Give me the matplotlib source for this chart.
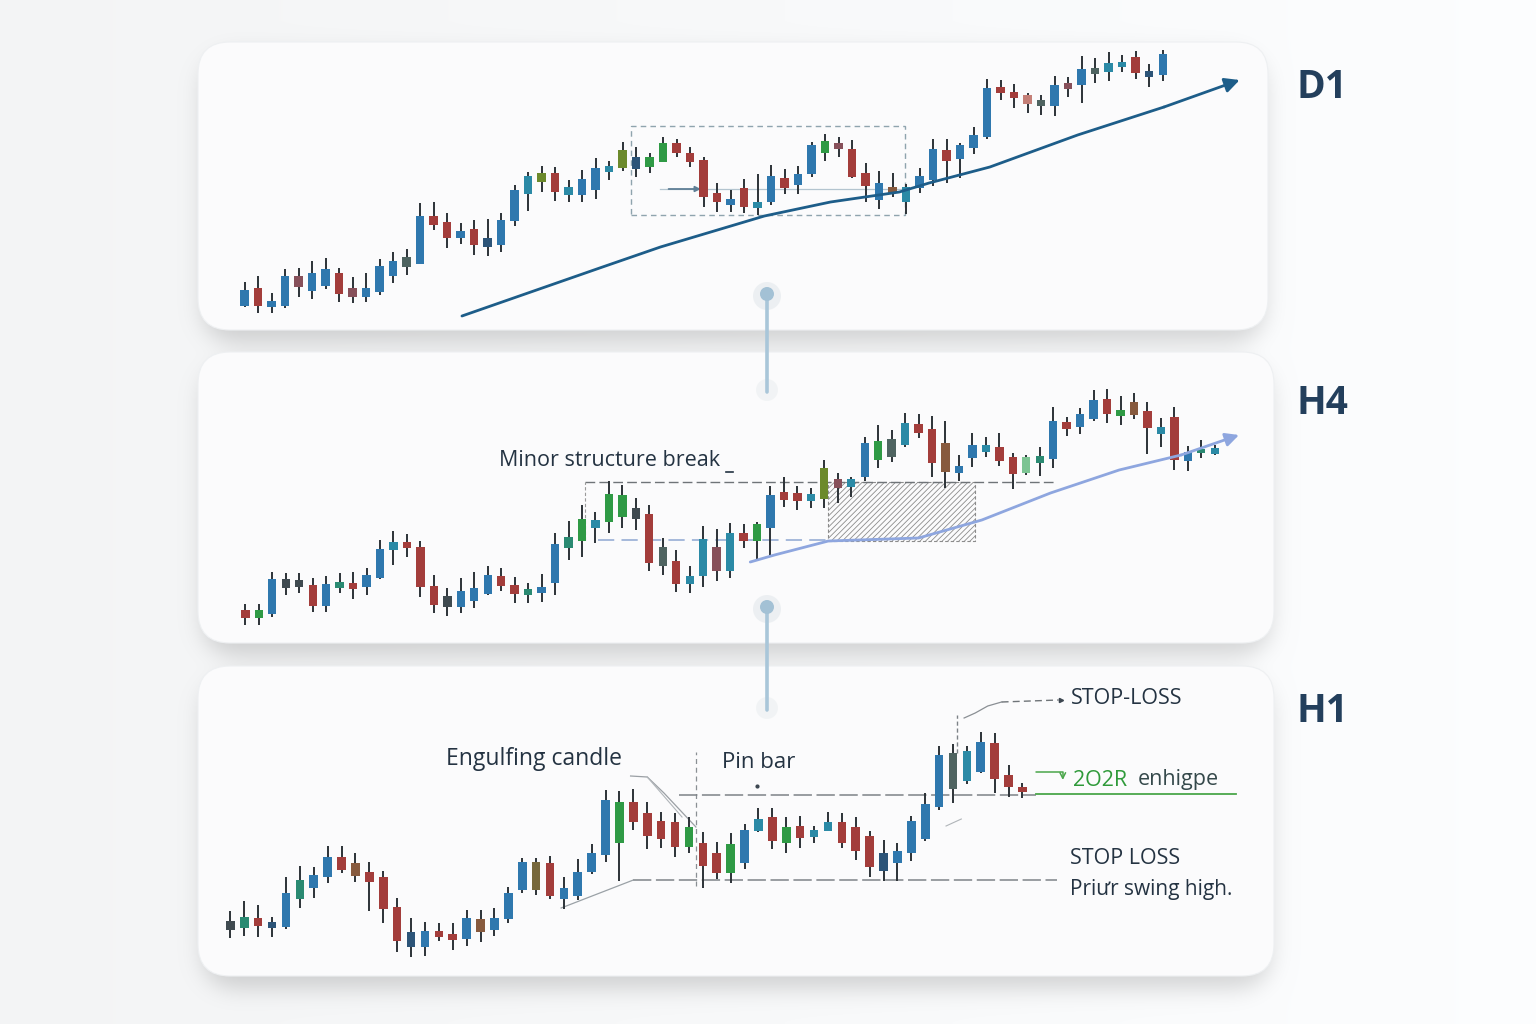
import numpy as np
import matplotlib
matplotlib.use("Agg")
import matplotlib.pyplot as plt
from matplotlib.patches import FancyBboxPatch, Rectangle, Circle

plt.rcParams['font.family'] = ['Open Sans', 'DejaVu Sans']
plt.rcParams['hatch.linewidth'] = 0.6

# ---------------- data ----------------
# D1
d1_open = [24, 42, 23, 24, 54, 39, 44, 57, 42, 33, 38, 54, 63, 66, 114, 108, 92, 101, 83, 85,
           109, 136, 148, 157, 135, 135, 140, 158, 162, 161, 163, 168, 187, 177, 170, 137, 125, 142, 122, 128,
           152, 145, 156, 177, 187, 181, 157, 130, 143, 128, 142, 150, 180, 171, 182, 193, 243, 238, 235, 224,
           224, 241, 245, 256, 258, 263, 273, 253, 255]
d1_high = [48, 54, 37, 61, 62, 69, 72, 62, 53, 57, 71, 78, 81, 127, 128, 117, 107, 110, 111, 117,
           145, 158, 164, 163, 150, 160, 172, 169, 188, 183, 177, 193, 191, 183, 173, 147, 140, 151, 156, 165,
           161, 164, 188, 196, 193, 190, 167, 159, 157, 146, 162, 191, 191, 187, 203, 251, 250, 246, 237, 235,
           254, 253, 274, 272, 278, 275, 279, 266, 280]
d1_low = [23, 17, 17, 22, 33, 31, 41, 28, 27, 28, 35, 47, 55, 66, 100, 82, 86, 75, 74, 78,
          104, 119, 138, 129, 128, 128, 131, 150, 159, 153, 157, 168, 173, 163, 123, 118, 118, 117, 115, 125,
          136, 136, 153, 169, 173, 152, 128, 121, 133, 116, 137, 144, 147, 152, 176, 191, 230, 222, 217, 215,
          214, 233, 227, 247, 249, 258, 251, 243, 249]
d1_close = [40, 24, 29, 54, 43, 57, 61, 36, 33, 42, 64, 69, 73, 114, 105, 92, 99, 85, 92, 110,
            140, 154, 157, 138, 143, 151, 162, 164, 180, 173, 173, 187, 177, 168, 133, 128, 131, 123, 128, 154,
            142, 156, 185, 189, 181, 153, 144, 147, 137, 143, 154, 181, 169, 185, 195, 242, 237, 232, 226, 230,
            245, 247, 261, 262, 267, 268, 257, 259, 276]
d1_colors = "brbbmbbrmb" "bbkbrrbrnb" "btortbbton" "ggrrrrbrtb" "rbbgmrrbwt" "bbrbbbrrpk" "bmbkttrnb"
d1_trend_x = [16.1, 26.3, 30.8, 38.5, 43.4, 48.5, 50.7, 55.2, 61.7, 68.1, 73.7]
d1_trend_y = [14, 62, 83, 114, 128, 138, 147, 163, 195, 223, 250]

# H4
h4_open = [33, 25, 29, 64, 56, 58, 37, 55, 60, 56, 65, 93, 101, 96, 57, 36, 36, 42, 49, 67,
           58, 48, 50, 60, 95, 102, 115, 121, 126, 135, 129, 96, 82, 59, 67, 96, 72, 110, 102, 115,
           151, 150, 142, 144, 164, 156, 166, 183, 186, 198, 219, 214, 200, 170, 185, 191, 196, 186, 170, 180,
           184, 221, 216, 224, 244, 227, 241, 232, 209, 226, 182, 190, 189]
h4_high = [39, 39, 71, 70, 70, 65, 67, 70, 71, 75, 103, 112, 109, 102, 68, 55, 65, 71, 77, 75,
           66, 60, 69, 110, 122, 138, 131, 162, 158, 145, 138, 105, 93, 77, 117, 114, 120, 119, 121, 157,
           166, 157, 155, 183, 170, 166, 206, 218, 213, 230, 229, 227, 222, 188, 210, 206, 210, 190, 188, 196,
           236, 226, 235, 253, 254, 247, 250, 241, 225, 236, 197, 203, 198]
h4_low = [18, 18, 26, 48, 50, 31, 31, 50, 44, 48, 64, 78, 86, 46, 30, 27, 30, 35, 48, 52,
          40, 40, 41, 48, 83, 86, 100, 110, 115, 113, 72, 68, 51, 50, 56, 62, 65, 95, 83, 88,
          136, 133, 135, 135, 140, 146, 162, 175, 181, 196, 205, 166, 155, 162, 176, 186, 177, 154, 168, 167,
          175, 207, 209, 222, 220, 218, 224, 189, 196, 173, 172, 185, 188]
h4_close = [25, 33, 64, 55, 63, 37, 59, 61, 54, 68, 94, 101, 95, 56, 38, 47, 52, 55, 68, 57,
            49, 54, 56, 99, 106, 124, 123, 149, 148, 124, 80, 77, 59, 67, 104, 72, 110, 102, 119, 148,
            143, 142, 149, 175, 155, 164, 200, 202, 204, 220, 210, 180, 171, 177, 198, 198, 182, 169, 186, 187,
            222, 214, 229, 243, 229, 233, 228, 215, 216, 183, 191, 194, 195]
h4_colors = "rgbddrberb" "btrrrdbbbr" "rebbegtggd" "rkrttmtrgb" "rrtomtbgkt" "rrwbbtrrle" "brbbrgwrtr" "bet"
h4_trend_x = [37.5, 39.3, 43.3, 50.0, 54.7, 59.8, 64.9, 69.5, 73.8]
h4_trend_y = [81, 88, 102, 105, 123, 150, 173, 188, 208]
h4_break_level = 161
h4_base_level = 103

# H1
h1_open = [55, 48, 58, 48, 49, 77, 88, 99, 119, 113, 104, 99, 69, 29, 29, 45, 42, 37, 57, 46,
           57, 86, 114, 113, 77, 80, 104, 121, 133, 174, 163, 155, 154, 129, 133, 123, 103, 113, 145, 159,
           133, 150, 139, 145, 154, 149, 140, 105, 113, 123, 137, 169, 187, 195, 204, 233, 201, 189]
h1_high = [65, 75, 71, 59, 99, 110, 109, 130, 130, 123, 114, 105, 78, 58, 54, 53, 53, 66, 66, 68,
           89, 118, 118, 120, 99, 117, 132, 186, 185, 187, 174, 164, 163, 159, 144, 134, 143, 152, 168, 168,
           159, 160, 150, 164, 163, 159, 145, 136, 133, 160, 183, 230, 232, 230, 244, 243, 211, 193]
h1_low = [38, 40, 39, 39, 47, 68, 78, 93, 103, 94, 65, 53, 24, 19, 20, 35, 26, 30, 34, 40,
          53, 83, 81, 77, 67, 76, 102, 114, 95, 146, 127, 128, 119, 123, 88, 97, 93, 107, 144, 127,
          123, 128, 133, 145, 128, 116, 99, 95, 95, 115, 135, 166, 173, 192, 203, 183, 179, 178]
h1_close = [46, 59, 50, 54, 83, 96, 101, 119, 106, 100, 94, 67, 35, 44, 45, 39, 36, 58, 44, 58,
            83, 114, 86, 80, 88, 104, 123, 176, 174, 154, 140, 137, 129, 149, 110, 103, 132, 146, 157, 135,
            149, 138, 146, 154, 133, 125, 109, 123, 125, 155, 172, 221, 223, 225, 234, 197, 189, 184]
h1_colors = "dernbebbrw" "rrrnbrrbwb" "bbyrbbbbgr" "rrrgrrgbtr" "grttrrrnbb" "bbktbrrr"
h1_entry_level = 181
h1_swing_level = 96

PALETTE = {'b': '#2f78ae', 'r': '#a33d3b', 'g': '#2f9a45', 't': '#2b8aa6', 'e': '#2a8a72',
           'o': '#6c8a2c', 'm': '#87505a', 'd': '#3f4a50', 'n': '#2c5478', 'w': '#875a3e',
           'k': '#4f6461', 'p': '#c47f77', 'l': '#7cc493', 'y': '#77683c'}

W, H = 1536, 1024
# panel boxes in pixels (x0, y0, x1, y1)
PANELS = [(198, 42, 1268, 330), (198, 352, 1274, 643), (198, 666, 1274, 976)]
RADIUS = 32

fig = plt.figure(figsize=(15.36, 10.24), dpi=100)

# ---------------- background with soft panel shadows ----------------
yy, xx = np.mgrid[0:H, 0:W]


def rr_mask(x0, y0, x1, y1, r):
    dx = np.maximum(np.maximum(x0 + r - xx, xx - (x1 - r)), 0)
    dy = np.maximum(np.maximum(y0 + r - yy, yy - (y1 - r)), 0)
    return ((dx ** 2 + dy ** 2) <= r * r).astype(float)


def gblur(a, s):
    k = np.exp(-0.5 * (np.arange(-3 * s, 3 * s + 1) / s) ** 2)
    k /= k.sum()
    a = np.apply_along_axis(lambda v: np.convolve(v, k, mode='same'), 1, a)
    a = np.apply_along_axis(lambda v: np.convolve(v, k, mode='same'), 0, a)
    return a


shadow = np.zeros((H, W))
for (x0, y0, x1, y1) in PANELS:
    shadow += rr_mask(x0 + 4, y0 + 12, x1 - 4, y1 + 12, RADIUS)
shadow = gblur(np.clip(shadow, 0, 1), 11)
base = np.tile(np.linspace(0.962, 0.998, W), (H, 1))
lum = base - 0.15 * shadow
img = np.dstack([lum * 0.992, lum * 0.996, lum * 1.0]).clip(0, 1)

bg = fig.add_axes([0, 0, 1, 1])
bg.imshow(img, extent=(0, W, H, 0), interpolation='bilinear', zorder=0)
bg.set_xlim(0, W)
bg.set_ylim(H, 0)
bg.axis('off')

for (x0, y0, x1, y1) in PANELS:
    bg.add_patch(FancyBboxPatch((x0, y0), x1 - x0, y1 - y0,
                                boxstyle=f"round,pad=0,rounding_size={RADIUS}",
                                facecolor='#fbfbfc', edgecolor='#eef0f2', linewidth=0.8, zorder=1))

# connectors between panels
for (ytop, ybot) in [(294, 392), (607, 710)]:
    bg.add_patch(Circle((767, ytop + 2), 14, facecolor='#e9edf0', edgecolor='none', alpha=0.8, zorder=2))
    bg.add_patch(Circle((767, ybot - 2), 11, facecolor='#eef1f3', edgecolor='none', alpha=0.7, zorder=2))
    bg.plot([767, 767], [ytop, ybot], color='#a9c6d9', lw=2.6, solid_capstyle='round', zorder=3)
    bg.add_patch(Circle((767, ytop), 7, facecolor='#a3c1d5', edgecolor='none', zorder=4))

for label, ypix in [("D1", 87), ("H4", 403), ("H1", 711)]:
    bg.text(1296, ypix, label, fontsize=28, fontweight='bold', color='#233f5c',
            ha='left', va='center')


# ---------------- candlestick panels ----------------
def candle_axes(box, xlim, ylim):
    x0, y0, x1, y1 = box
    ax = fig.add_axes([x0 / W, 1 - y1 / H, (x1 - x0) / W, (y1 - y0) / H])
    ax.set_xlim(*xlim)
    ax.set_ylim(*ylim)
    ax.patch.set_alpha(0)
    ax.axis('off')
    return ax


def draw_candles(ax, o, h, l, c, colors):
    assert len(o) == len(h) == len(l) == len(c) == len(colors)
    o, h, l, c = map(np.asarray, (o, h, l, c))
    x = np.arange(len(o))
    ax.vlines(x, l, h, colors='#2c3237', linewidth=1.4, zorder=3)
    ax.bar(x, np.abs(c - o), bottom=np.minimum(o, c), width=0.62,
           color=[PALETTE[k] for k in colors], linewidth=0, zorder=4)


ANN = '#243342'
FS = 15.5

# D1
ax1 = candle_axes(PANELS[0], (-3.45, 75.8), (0, 288))
ax1.add_patch(Rectangle((28.6, 115), 20.3, 89, fill=False, ec='#8fa4ae', lw=1.0,
                        ls=(0, (4, 3)), zorder=2))
ax1.plot([30.8, 48.9], [141, 141], color='#b3c4cf', lw=0.9, zorder=2)
ax1.annotate('', xy=(34.0, 141), xytext=(31.2, 141),
             arrowprops=dict(arrowstyle='-|>', color='#5f7f96', lw=1.3, mutation_scale=8), zorder=2)
draw_candles(ax1, d1_open, d1_high, d1_low, d1_close, d1_colors)
ax1.plot(d1_trend_x[:-1], d1_trend_y[:-1], color='#1d5d89', lw=2.0, zorder=5,
         solid_capstyle='round')
ax1.annotate('', xy=(d1_trend_x[-1], d1_trend_y[-1]), xytext=(d1_trend_x[-2], d1_trend_y[-2]),
             arrowprops=dict(arrowstyle='-|>', color='#1d5d89', lw=2.0, mutation_scale=22,
                             shrinkA=0, shrinkB=0), zorder=5)

# H4
ax2 = candle_axes(PANELS[1], (-3.52, 76.4), (0, 291))
ax2.add_patch(Rectangle((43.3, h4_base_level - 1), 10.9, h4_break_level - h4_base_level + 1,
                        fill=False, hatch='//////', ec='#8c8c8c', lw=0.8, ls=(0, (3, 2)), zorder=2))
ax2.plot([25.2, 60.3], [h4_break_level, h4_break_level], color='#6f7478', lw=1.0,
         ls=(0, (7, 3)), zorder=2)
ax2.plot([26.2, 43.3], [h4_base_level, h4_base_level], color='#9fb4d8', lw=1.3,
         ls=(0, (9, 4)), zorder=2)
ax2.plot([25.2, 25.2], [h4_base_level, h4_break_level], color='#9a9a9a', lw=0.8,
         ls=(0, (3, 2)), zorder=2)
draw_candles(ax2, h4_open, h4_high, h4_low, h4_close, h4_colors)
ax2.plot(h4_trend_x[:-1], h4_trend_y[:-1], color='#8ea6df', lw=2.0, zorder=5,
         solid_capstyle='round')
ax2.annotate('', xy=(h4_trend_x[-1], h4_trend_y[-1]), xytext=(h4_trend_x[-2], h4_trend_y[-2]),
             arrowprops=dict(arrowstyle='-|>', color='#8ea6df', lw=2.0, mutation_scale=20,
                             shrinkA=0, shrinkB=0), zorder=5)
ax2.text(18.8, 183, "Minor structure break", fontsize=FS, color=ANN, ha='left', va='center')
ax2.plot([35.7, 36.2], [171, 171], color=ANN, lw=1.2)

# H1
ax3 = candle_axes(PANELS[2], (-2.33, 75.1), (0, 310))
ax3.plot([33.5, 33.5], [90, 224], color='#8a8f94', lw=0.9, ls=(0, (4, 3)), zorder=2)
ax3.plot([32.3, 58.0], [h1_entry_level, h1_entry_level], color='#7d8287', lw=1.1,
         ls=(0, (12, 3)), zorder=2)
ax3.plot([58.0, 72.4], [h1_entry_level + 1, h1_entry_level + 1], color='#4aa64a', lw=1.3, zorder=2)
ax3.plot([29.0, 59.5], [h1_swing_level, h1_swing_level], color='#7f8489', lw=1.1,
         ls=(0, (12, 3)), zorder=2)
ax3.plot([23.8, 29.0], [68, h1_swing_level], color='#9aa1a6', lw=0.9, zorder=2)
ax3.plot([28.8, 30.0, 31.2, 33.5], [200, 199, 183, 149], color='#9a9fa4', lw=0.9, zorder=2)
ax3.plot([30.0, 32.5], [199, 159], color='#b0b5b9', lw=0.8, zorder=2)
ax3.plot([51.5, 52.6], [150, 157], color='#b0b5b9', lw=0.8, zorder=2)
draw_candles(ax3, h1_open, h1_high, h1_low, h1_close, h1_colors)
ax3.plot([52.3, 52.3], [223, 261], color='#7d8287', lw=1.0, ls=(0, (3, 2)), zorder=2)
ax3.plot([52.8, 53.6, 54.5, 55.5], [258, 263, 270, 274], color='#8a8f94', lw=0.9, zorder=2)
ax3.plot([55.5, 59.6], [274, 276], color='#6f7478', lw=1.0, ls=(0, (5, 3)), zorder=2)
ax3.plot([59.8], [276], marker='>', ms=3, color='#3c4650')
ax3.plot([37.9], [190], marker='o', ms=2, color='#3c4650')
ax3.annotate('', xy=(59.9, 196), xytext=(58.0, 204),
             arrowprops=dict(arrowstyle='->', color='#4aa64a', lw=1.1,
                             connectionstyle='angle,angleA=0,angleB=90,rad=0',
                             shrinkA=0, shrinkB=0))
ax3.text(15.5, 217, "Engulfing candle", fontsize=16.5, color=ANN, ha='left', va='center')
ax3.text(35.4, 214, "Pin bar", fontsize=16, color=ANN, ha='left', va='center')
ax3.text(60.5, 277, "STOP-LOSS", fontsize=FS, color=ANN, ha='left', va='center')
ax3.text(60.6, 196, "2O2R", fontsize=FS, color='#2f9a3a', ha='left', va='center')
ax3.text(65.3, 196, "enhigpe", fontsize=FS, color='#35494b', ha='left', va='center')
ax3.text(60.4, 118, "STOP LOSS", fontsize=FS, color=ANN, ha='left', va='center')
ax3.text(60.4, 87, "Priưr swing high.", fontsize=15, color=ANN, ha='left', va='center')

fig.savefig("out.png", dpi=100)
